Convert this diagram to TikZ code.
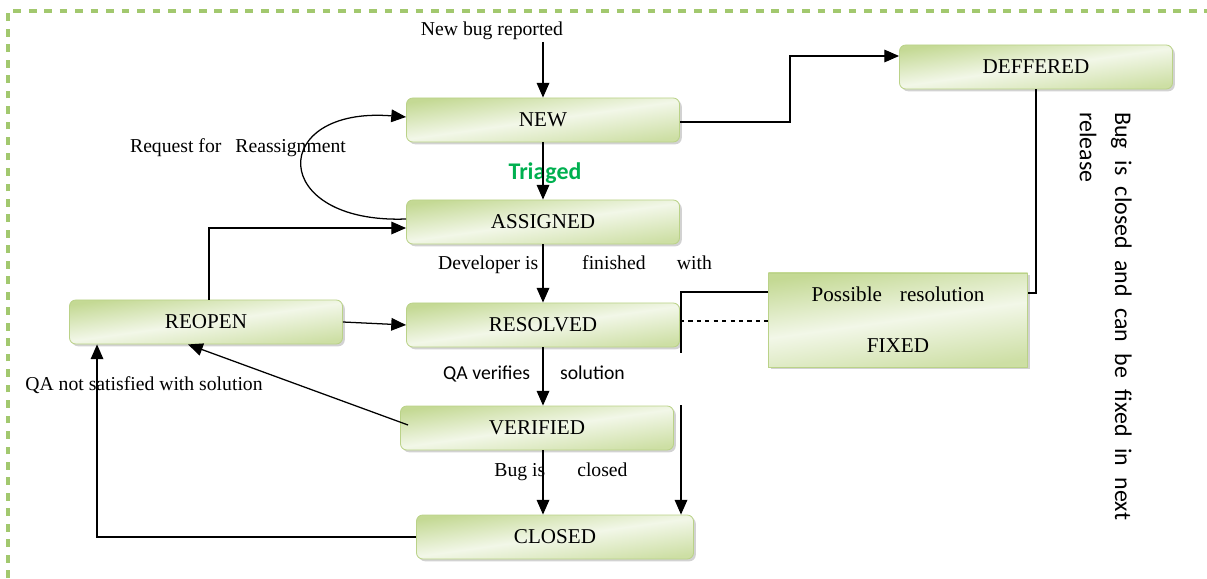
\documentclass[tikz,border=0pt]{standalone}
\usepackage{fontspec}
\setmainfont{Liberation Serif}
\newfontfamily\calibri{Carlito}
\usepackage{tikz}
\usetikzlibrary{calc}
\usetikzlibrary{shapes,arrows}
\usetikzlibrary{arrows.meta}
\usetikzlibrary{shadows}

\definecolor{boxdark}{RGB}{196,217,148}
\definecolor{boxlight}{RGB}{242,247,232}
\definecolor{boxedge}{RGB}{186,210,136}
\definecolor{framegreen}{RGB}{162,200,110}
\definecolor{triagegreen}{RGB}{0,176,80}

\begin{document}
\begin{tikzpicture}[x = 0.025cm, y = -0.025cm,
    state/.style = {draw = boxedge, line width = 0.6pt, rounded corners = 4.5pt,
        top color = boxdark, bottom color = boxdark!85, middle color = boxlight, shading angle = 8,
        drop shadow = {shadow xshift = 1.6pt, shadow yshift = -1.6pt, fill = black!35, opacity = 0.5},
        minimum width = 6.825cm, minimum height = 1.1cm, inner sep = 0pt,
        font = \fontsize{15}{18}\selectfont},
    lbl/.style = {inner sep = 0pt, font = \fontsize{14}{17}\selectfont},
    arr/.style = {-{Triangle[length = 10.5pt, width = 9pt]}, line width = 0.9pt},
    link/.style = {line width = 0.9pt}]

    \useasboundingbox (0,0) rectangle (1207,578);
    \draw[framegreen, line width = 2.2pt, dash pattern = on 5.5pt off 5.5pt] (8,578) -- (8,11) -- (1207,11);

    \node[state] (new) at (543,120) {NEW};
    \node[state] (assigned) at (543,222) {ASSIGNED};
    \node[state] (resolved) at (543,325) {RESOLVED};
    \node[state] (verified) at (537,428) {VERIFIED};
    \node[state, minimum width = 6.925cm] (closed) at (555,537) {CLOSED};
    \node[state] (reopen) at (206,322) {REOPEN};
    \node[state] (deferred) at (1036,67) {DEFFERED};
    \node[state, rounded corners = 0pt, minimum width = 6.475cm, minimum height = 2.35cm, align = center]
        (fixed) at (898,320) {Possible\hspace{0.45cm}resolution\\[18pt]FIXED};

    \node[lbl] (reported) at (492,31) {New bug reported};
    \node[lbl] (reassign) at (238,148) {Request for\hspace{0.35cm}Reassignment};
    \node[inner sep = 0pt, text = triagegreen, font = \calibri\bfseries\fontsize{17}{20}\selectfont] (triaged) at (545,173) {Triaged};
    \node[lbl] (developer) at (575,265) {Developer is\hspace{1.1cm}finished\hspace{0.78cm}with};
    \node[lbl, font = \calibri\fontsize{14}{17}\selectfont] (qaverify) at (534,374) {QA verifies\hspace{0.75cm}solution};
    \node[lbl] (notsatisfied) at (144,385) {QA not satisfied with solution};
    \node[lbl] (bugclosed) at (561,472) {Bug is\hspace{0.8cm}closed};
    \node[inner sep = 0pt, rotate = -90, anchor = north west, align = left, font = \calibri\fontsize{17}{25}\selectfont]
        (nextrelease) at (1132,112) {\makebox[10.2cm][s]{Bug is closed and can be fixed in next}\\release};

    \coordinate (inlet) at (543,42);
    \coordinate (gap) at (681,405);

    \draw[arr] (inlet) -- (new.north);
    \draw[arr] (new) -- (assigned);
    \draw[arr] ($(new.east)+(0,2)$) -- (790,122) |- ($(deferred.west)+(0,-11)$);
    \draw[arr] ($(assigned.west)+(0,-3)$) .. controls (268,224) and (268,106) .. ($(new.west)+(0,-3)$);
    \draw[arr] (assigned) -- (resolved);
    \draw[arr] (reopen.east) -- (resolved.west);
    \draw[arr] ($(reopen.north)+(3,0)$) |- ($(assigned.west)+(0,6)$);
    \draw[arr] (resolved.south) -- (resolved.south |- verified.north);
    \draw[arr] ($(verified.west)+(8,-3)$) -- ($(reopen.south)+(-18,0)$);
    \draw[arr] (verified.south -| assigned.south) -- (closed.north -| assigned.south);
    \draw[arr] (closed.west) -| ($(reopen.south west)+(28,0)$);
    \draw[arr] (gap) -- (gap |- closed.north);
    \draw[link] (deferred.south) |- ($(fixed.east)+(0,-27)$);
    \draw[link] ($(fixed.west)+(0,-28)$) -| ($(resolved.east)+(1,28)$);
    \draw[link, dashed] ($(resolved.east)+(0,-4)$) -- ($(fixed.west)+(0,1)$);
\end{tikzpicture}
\end{document}
